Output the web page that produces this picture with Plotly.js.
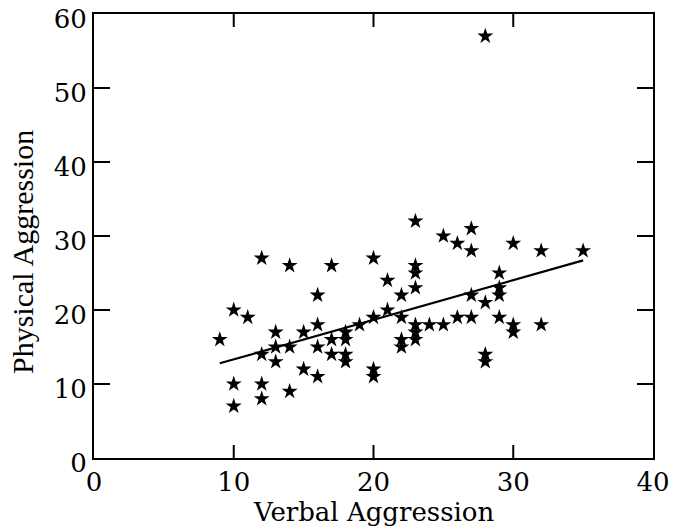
<!DOCTYPE html>
<html>
<head>
<meta charset="utf-8">
<script src="https://cdn.plot.ly/plotly-3.0.1.min.js"></script>
<style>
  html, body { margin: 0; padding: 0; background: #fff; }
  #chart { width: 673px; height: 529px; }
</style>
</head>
<body>
<div id="chart"></div>
<script>
// Verbal vs. physical aggression scores, one star per respondent
const verbal = [
  9,
  10, 10, 10,
  11,
  12, 12, 12, 12,
  13, 13, 13,
  14, 14, 14,
  15, 15,
  16, 16, 16, 16,
  17, 17, 17,
  18, 18, 18, 18,
  19,
  20, 20, 20, 20,
  21, 21,
  22, 22, 22, 22,
  23, 23, 23, 23, 23, 23, 23,
  24,
  25, 25,
  26, 26,
  27, 27, 27, 27,
  28, 28, 28, 28,
  29, 29, 29, 29,
  30, 30, 30,
  32, 32,
  35
];
const physical = [
  16,
  20, 10, 7,
  19,
  27, 14, 10, 8,
  17, 15, 13,
  26, 15, 9,
  17, 12,
  22, 18, 15, 11,
  26, 16, 14,
  17, 16, 14, 13,
  18,
  27, 19, 12, 11,
  24, 20,
  22, 19, 16, 15,
  32, 26, 25, 23, 18, 17, 16,
  18,
  30, 18,
  29, 19,
  31, 28, 22, 19,
  57, 21, 14, 13,
  25, 23, 22, 19,
  29, 18, 17,
  28, 18,
  28
];

// Fitted regression line, drawn across the observed verbal range
const fitX = [9, 35];
const fitY = [12.8, 26.7];

const xTicks = [0, 10, 20, 30, 40];
const yTicks = [0, 10, 20, 30, 40, 50, 60];
const xRange = [0, 40];
const yRange = [0, 60];

const traces = [
  {
    x: verbal, y: physical,
    type: 'scatter', mode: 'markers',
    marker: { symbol: 'star', size: 12, color: '#000', line: { width: 0 } }
  },
  {
    x: fitX, y: fitY,
    type: 'scatter', mode: 'lines',
    line: { color: '#000', width: 2.2 }
  }
];

const axisCommon = {
  showgrid: false, zeroline: false,
  showline: true, linecolor: '#000', linewidth: 2,
  mirror: true, ticks: '',
  tickmode: 'array'
};

const serif = { family: 'DejaVu Serif', size: 26, color: '#000' };

// Inward tick marks on all four sides of the frame (interior values only;
// the frame itself covers the ends)
const tickStyle = { color: '#000', width: 2 };
const tickShapes = [];
xTicks.filter(v => v > xRange[0] && v < xRange[1]).forEach(v => {
  tickShapes.push({ type: 'line', xref: 'x', yref: 'paper', ysizemode: 'pixel',
    yanchor: 0, x0: v, x1: v, y0: 0, y1: 13, line: tickStyle });
  tickShapes.push({ type: 'line', xref: 'x', yref: 'paper', ysizemode: 'pixel',
    yanchor: 1, x0: v, x1: v, y0: 0, y1: -13, line: tickStyle });
});
yTicks.filter(v => v > yRange[0] && v < yRange[1]).forEach(v => {
  tickShapes.push({ type: 'line', xref: 'paper', yref: 'y', xsizemode: 'pixel',
    xanchor: 0, x0: 0, x1: 16, y0: v, y1: v, line: tickStyle });
  tickShapes.push({ type: 'line', xref: 'paper', yref: 'y', xsizemode: 'pixel',
    xanchor: 1, x0: 0, x1: -16, y0: v, y1: v, line: tickStyle });
});

const layout = {
  width: 673, height: 529,
  margin: { l: 94, r: 20, t: 14, b: 71 },
  paper_bgcolor: '#fff', plot_bgcolor: '#fff',
  showlegend: false,
  xaxis: Object.assign({}, axisCommon, {
    range: xRange, tickvals: xTicks, tickfont: serif
  }),
  yaxis: Object.assign({}, axisCommon, {
    range: yRange, tickvals: yTicks, tickfont: serif,
    ticklabelshift: 5
  }),
  shapes: tickShapes,
  // axis titles
  annotations: [
    {
      text: 'Verbal Aggression',
      xref: 'paper', yref: 'paper', x: 0.5, y: -54 / 444,
      xanchor: 'center', yanchor: 'middle', showarrow: false,
      font: serif
    },
    {
      text: 'Physical Aggression', textangle: -90,
      xref: 'paper', yref: 'paper', x: -72 / 559, y: 206 / 444,
      xanchor: 'center', yanchor: 'middle', showarrow: false,
      font: { family: 'Liberation Serif', size: 30, color: '#000' }
    }
  ]
};

Plotly.newPlot('chart', traces, layout, { displayModeBar: false });
</script>
</body>
</html>
